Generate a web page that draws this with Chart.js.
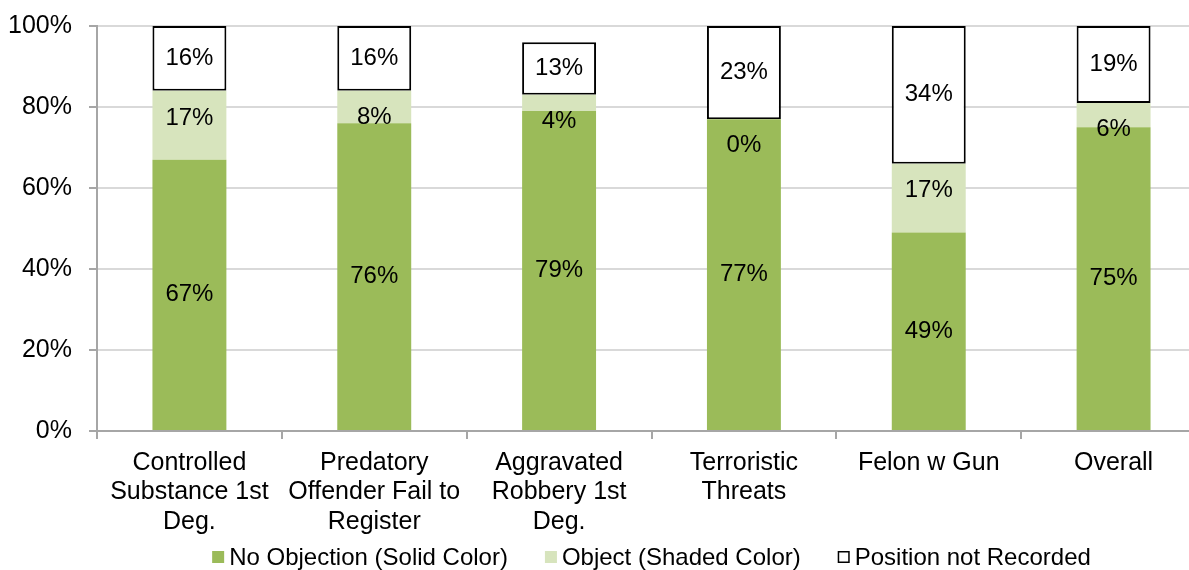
<!DOCTYPE html>
<html>
<head>
<meta charset="utf-8">
<script src="https://cdn.jsdelivr.net/npm/chart.js@4/dist/chart.umd.min.js"></script>
<style>
  html, body { margin: 0; padding: 0; background: #fff; overflow: hidden; }
  #wrap { width: 1189px; height: 570px; overflow: hidden; }
</style>
</head>
<body>
<div id="wrap"><canvas id="chart" width="1206" height="570"></canvas></div>
<script>
const offenses = [
  ['Controlled', 'Substance 1st', 'Deg.'],
  ['Predatory', 'Offender Fail to', 'Register'],
  ['Aggravated', 'Robbery 1st', 'Deg.'],
  ['Terroristic', 'Threats'],
  ['Felon w Gun'],
  ['Overall']
];
const noObjection = [67, 76, 79, 77, 49, 75];
const objected = [17, 8, 4, 0, 17, 6];
const notRecorded = [16, 16, 13, 23, 34, 19];
const yTicks = [0, 20, 40, 60, 80, 100];

// small segments get their label pushed off-centre so it stays readable
const objectedLabelShift = [-7, 10, 18, 26, -8, 14];

const FAMILY = '"Liberation Sans", Arial, sans-serif';
const AXIS_FONT = { family: FAMILY, size: 25, lineHeight: 1.18 };

const segmentLabels = {
  id: 'segmentLabels',
  afterDatasetsDraw(chart) {
    const ctx = chart.ctx;
    ctx.save();
    ctx.font = `24px ${FAMILY}`;
    ctx.fillStyle = '#000';
    ctx.textAlign = 'center';
    ctx.textBaseline = 'middle';
    chart.data.datasets.forEach((ds, di) => {
      const meta = chart.getDatasetMeta(di);
      meta.data.forEach((bar, i) => {
        const { x, y, base } = bar.getProps(['x', 'y', 'base'], true);
        const shift = di === 1 ? objectedLabelShift[i] : 0;
        ctx.fillText(ds.data[i] + '%', x, (y + base) / 2 + shift);
      });
    });
    ctx.restore();
  }
};

// one-row legend centred under the plot, small box then label
const bottomLegend = {
  id: 'bottomLegend',
  afterDraw(chart) {
    const ctx = chart.ctx;
    const area = chart.chartArea;
    const box = 12, gap = 5, spacing = 37, y = 557;
    ctx.save();
    ctx.font = `24px ${FAMILY}`;
    ctx.textBaseline = 'middle';
    ctx.textAlign = 'left';
    const items = chart.data.datasets.map(ds => ({
      ds, w: box + gap + ctx.measureText(ds.label).width
    }));
    const total = items.reduce((s, it) => s + it.w, 0) + spacing * (items.length - 1);
    let x = (area.left + area.right) / 2 - total / 2;
    items.forEach(({ ds, w }) => {
      ctx.fillStyle = ds.backgroundColor;
      ctx.fillRect(x, y - box / 2, box, box);
      if (ds.borderWidth) {
        ctx.strokeStyle = ds.borderColor;
        ctx.lineWidth = 1.5;
        ctx.strokeRect(x + 0.75, y - box / 2 + 0.75, box - 1.5, box - 1.5);
      }
      ctx.fillStyle = '#000';
      ctx.fillText(ds.label, x + box + gap, y + 1);
      x += w + spacing;
    });
    ctx.restore();
  }
};

new Chart(document.getElementById('chart'), {
  type: 'bar',
  data: {
    labels: offenses,
    datasets: [
      {
        label: 'No Objection (Solid Color)',
        data: noObjection,
        backgroundColor: '#9bbb59',
        borderWidth: 0
      },
      {
        label: 'Object (Shaded Color)',
        data: objected,
        backgroundColor: '#d7e4bd',
        borderWidth: 0
      },
      {
        label: 'Position not Recorded',
        data: notRecorded,
        backgroundColor: '#ffffff',
        borderColor: '#000000',
        borderWidth: 2,
        borderSkipped: false
      }
    ]
  },
  options: {
    responsive: false,
    animation: false,
    events: [],
    categoryPercentage: 1,
    barPercentage: 0.4,
    layout: { padding: { top: 26, left: 0, right: 0, bottom: 0 } },
    plugins: {
      tooltip: { enabled: false },
      legend: { display: false }
    },
    scales: {
      x: {
        stacked: true,
        afterFit(scale) {
          scale.height = 139;
          scale.paddingLeft = 0;
          scale.paddingRight = 0;
        },
        grid: {
          offset: true,
          drawOnChartArea: false,
          tickLength: 8,
          tickColor: '#a6a6a6',
          lineWidth: 2
        },
        border: { color: '#a6a6a6', width: 2 },
        ticks: {
          font: AXIS_FONT,
          color: '#000',
          padding: 9,
          maxRotation: 0,
          autoSkip: false
        }
      },
      y: {
        stacked: true,
        min: 0,
        max: 100,
        afterFit(scale) {
          scale.width = 97;
          scale.paddingTop = 0;
          scale.paddingBottom = 0;
        },
        afterBuildTicks(scale) { scale.ticks = yTicks.map(v => ({ value: v })); },
        grid: {
          color: '#d9d9d9',
          lineWidth: 2,
          tickLength: 8,
          tickColor: '#a6a6a6'
        },
        border: { color: '#a6a6a6', width: 2 },
        ticks: {
          font: AXIS_FONT,
          color: '#000',
          padding: 17,
          callback: v => v + '%'
        }
      }
    }
  },
  plugins: [segmentLabels, bottomLegend]
});
</script>
</body>
</html>
